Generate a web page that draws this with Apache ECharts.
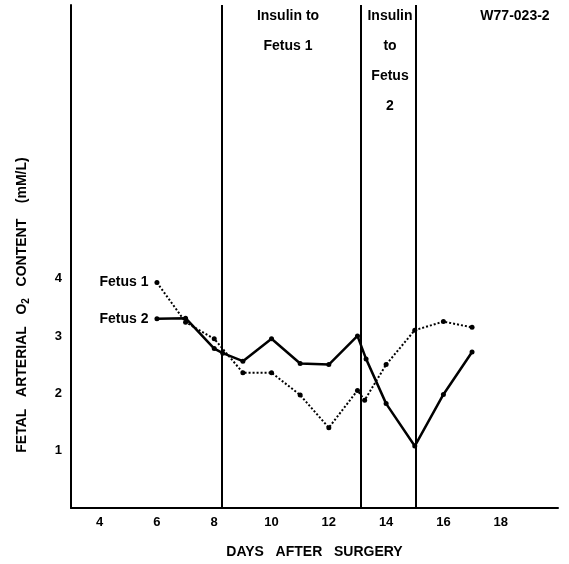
<!DOCTYPE html>
<html><head><meta charset="utf-8">
<script src="https://cdn.jsdelivr.net/npm/echarts@6/dist/echarts.min.js"></script>
<style>html,body{margin:0;padding:0;background:#fff}#c{width:569px;height:564px}</style>
</head><body><div id="c"></div>
<script>
const fetus1Days   = [6, 7, 8, 9, 10, 11, 12, 13, 13.25, 14, 15, 16, 17];
const fetus1Values = [3.93, 3.24, 2.95, 2.36, 2.36, 1.97, 1.40, 2.05, 1.88, 2.50, 3.10, 3.25, 3.15];
const fetus2Days   = [6, 7, 8, 8.3, 9, 10, 11, 12, 13, 13.3, 14, 15, 16, 17];
const fetus2Values = [3.30, 3.31, 2.78, 2.70, 2.56, 2.95, 2.52, 2.50, 3.00, 2.60, 1.82, 1.08, 1.98, 2.72];
const insulinDays  = [8.26, 13.12, 15.04];
const xTickLabels  = [4, 6, 8, 10, 12, 14, 16, 18];
const yTickLabels  = [1, 2, 3, 4];

const FONT = "'Liberation Sans', Arial, Helvetica, sans-serif";
const chart = echarts.init(document.getElementById('c'), null, {renderer: 'canvas'});

function pairs(xs, ys, name) {
  return xs.map((x, i) => {
    const item = {value: [x, ys[i]]};
    if (i === 0) {
      item.label = {show: true, position: 'left', distance: 6, formatter: name,
        color: '#000', fontFamily: FONT, fontWeight: 'bold', fontSize: 14};
    }
    return item;
  });
}

const txt = (t, x, y) => ({type: 'text', x: x, y: y, silent: true,
  style: {text: t, fill: '#000', font: 'bold 14px ' + FONT, align: 'center', verticalAlign: 'middle'}});

chart.setOption({
  animation: false,
  backgroundColor: '#fff',
  grid: {left: 71, right: 11, top: 5, bottom: 55, containLabel: false},
  xAxis: {
    type: 'value', min: 3, max: 20, interval: 1,
    name: 'DAYS   AFTER   SURGERY', nameLocation: 'middle', nameGap: 37,
    nameTextStyle: {color: '#000', fontFamily: FONT, fontWeight: 'bold', fontSize: 14},
    axisLine: {show: true, lineStyle: {color: '#000', width: 2}},
    axisTick: {show: false}, splitLine: {show: false},
    axisLabel: {color: '#000', fontFamily: FONT, fontWeight: 'bold', fontSize: 13, margin: 8,
      formatter: v => xTickLabels.includes(v) ? String(v) : ''}
  },
  yAxis: {
    type: 'value', min: 0, max: 8.77, interval: 1,
    axisLine: {show: true, lineStyle: {color: '#000', width: 2}},
    axisTick: {show: false}, splitLine: {show: false},
    axisLabel: {color: '#000', fontFamily: FONT, fontWeight: 'bold', fontSize: 13, margin: 9,
      formatter: v => yTickLabels.includes(v) ? String(v) : '', showMaxLabel: false}
  },
  series: [
    {
      name: 'Fetus 1', type: 'line', data: pairs(fetus1Days, fetus1Values, 'Fetus 1'),
      symbol: 'circle', symbolSize: 5, itemStyle: {color: '#000'},
      lineStyle: {color: '#000', width: 2, type: [2, 2]},
      markLine: {
        silent: true, symbol: 'none', label: {show: false},
        lineStyle: {color: '#000', width: 2, type: 'solid'},
        data: insulinDays.map(d => ({xAxis: d}))
      }
    },
    {
      name: 'Fetus 2', type: 'line', data: pairs(fetus2Days, fetus2Values, 'Fetus 2'),
      symbol: 'circle', symbolSize: 5, itemStyle: {color: '#000'},
      lineStyle: {color: '#000', width: 2.5, type: 'solid'}
    }
  ],
  graphic: [
    txt('Insulin to', 288, 16),
    txt('Fetus 1', 288, 46),
    txt('Insulin', 390, 16),
    txt('to', 390, 46),
    txt('Fetus', 390, 76),
    txt('2', 390, 106),
    txt('W77-023-2', 515, 16),
    {
      type: 'text', x: 22, y: 305, rotation: Math.PI / 2, silent: true,
      style: {
        text: '{a|FETAL   ARTERIAL   O}{s|2}{a|   CONTENT    (mM/L)}',
        align: 'center', verticalAlign: 'middle', fill: '#000',
        rich: {
          a: {fontFamily: FONT, fontWeight: 'bold', fontSize: 14, lineHeight: 18, fill: '#000'},
          s: {fontFamily: FONT, fontWeight: 'bold', fontSize: 10, lineHeight: 18, fill: '#000', verticalAlign: 'bottom'}
        }
      }
    }
  ]
});
</script>
</body></html>
